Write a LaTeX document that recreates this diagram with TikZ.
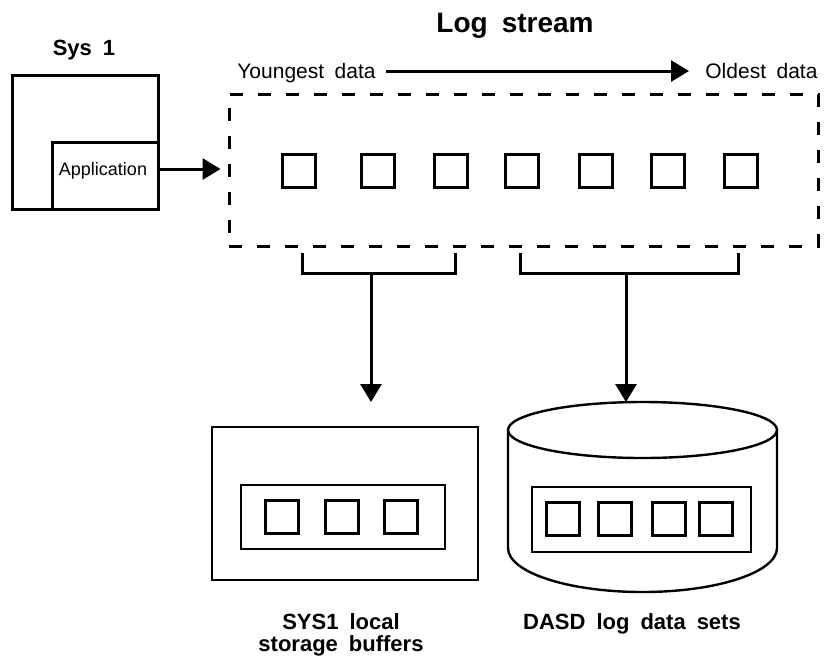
\documentclass[tikz,border=0pt]{standalone}
\usepackage{fontspec}
\setmainfont[WordSpace=1.8]{Liberation Sans}
\usepackage{tikz}
\usetikzlibrary{arrows.meta}

\begin{document}
\begin{tikzpicture}[x=0.5pt, y=-0.5pt,
    buf/.style={draw, line width=1.5pt, minimum size=16.5pt, inner sep=0pt},
    arr/.style={line width=1.5pt, -{Triangle[length=9pt, width=10.5pt]}},
    lbl/.style={inner sep=0pt, text depth=0pt},
    heading/.style={inner sep=0pt, font=\fontsize{11}{11}\selectfont\bfseries}]
\useasboundingbox (0,0) rectangle (825,655);

\node[heading, anchor=north, font=\fontsize{14}{14}\selectfont\bfseries] (title) at (515,13) {Log stream};
\node[heading, anchor=north] (systitle) at (84,40) {Sys 1};
\node[lbl, text height=7.5pt, anchor=west, font=\fontsize{10.5}{10.5}\selectfont] (young) at (237,71) {Youngest data};
\node[lbl, text height=7.5pt, anchor=west, font=\fontsize{10.5}{10.5}\selectfont] (old) at (705,71) {Oldest data};

\node[draw, line width=1.5pt, minimum width=73pt, minimum height=67pt] (sys) at (85,142) {};
\node[draw, line width=1.5pt, minimum width=53pt, minimum height=33.5pt] (app) at (105,175.5) {};
\node[lbl, text height=6.4pt, font=\fontsize{9}{9}\selectfont] (apptxt) at (103,169) {Application};

\node[draw, line width=1.5pt, dash pattern=on 6.5pt off 7.5pt, minimum width=294.5pt, minimum height=76pt] (stream) at (523.5,170) {};
\node[buf] (s1) at (299,171) {};
\node[buf] (s2) at (378,171) {};
\node[buf] (s3) at (451,171) {};
\node[buf] (s4) at (522,171) {};
\node[buf] (s5) at (596,171) {};
\node[buf] (s6) at (668,171) {};
\node[buf] (s7) at (741,171) {};

\node[draw, line width=1.4pt, minimum width=133pt, minimum height=76.5pt] (local) at (345,503.5) {};
\node[draw, line width=1.4pt, minimum width=102pt, minimum height=32pt] (localbuf) at (343,517) {};
\node[buf] (l1) at (282,517) {};
\node[buf] (l2) at (341.5,517) {};
\node[buf] (l3) at (400.5,517) {};

\draw[line width=1.2pt] (642.5,430) ellipse [x radius=67.25pt, y radius=14pt];
\draw[line width=1.2pt] (508,430) -- (508,548) arc[start angle=180, end angle=360, x radius=67.25pt, y radius=22pt] -- (777,430);
\node[draw, line width=1.4pt, minimum width=109.5pt, minimum height=32.5pt] (dasdbuf) at (641.5,519.5) {};
\node[buf] (d1) at (562.5,519) {};
\node[buf] (d2) at (615,519) {};
\node[buf] (d3) at (669,519) {};
\node[buf] (d4) at (715.5,519) {};

\node[heading, anchor=north, align=center] (locallbl) at (341,613) {SYS1 local\\storage buffers};
\node[heading, anchor=north] (dasdlbl) at (632,613) {DASD log data sets};

\coordinate (lfork) at (371,273);
\coordinate (ltip) at (371,402);
\coordinate (rfork) at (626,273);
\coordinate (rtip) at (626,402);

\draw[arr, shorten <=5pt, shorten >=8pt] (young.east) -- (old.west);
\draw[arr, shorten >=3.5pt] (app.east |- apptxt) -- (stream.west |- apptxt);
\draw[line width=1.5pt] (302,253) -- (302,273) -- (455,273) -- (455,253);
\draw[line width=1.5pt] (520,253) -- (520,273) -- (738,273) -- (738,253);
\draw[arr] (lfork) -- (ltip);
\draw[arr] (rfork) -- (rtip);
\end{tikzpicture}
\end{document}
